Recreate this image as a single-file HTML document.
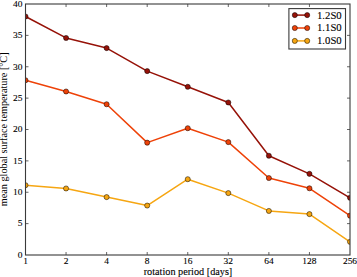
<!DOCTYPE html><html><head><meta charset="utf-8"><style>html,body{margin:0;padding:0;background:#fff;width:357px;height:277px;overflow:hidden}svg{display:block}text{font-family:"Liberation Serif",serif;fill:#000;stroke:#000;stroke-width:0.1px}</style></head><body>
<svg width="357" height="277" viewBox="0 0 357 277">
<defs><clipPath id="cp"><rect x="25.5" y="4.0" width="324.5" height="251.0"/></clipPath></defs>
<g clip-path="url(#cp)">
<polyline points="25.50,16.50 66.06,37.94 106.62,48.10 147.19,71.10 187.75,86.80 228.31,102.47 268.88,155.75 309.44,173.83 350.00,197.75" fill="none" stroke="#961208" stroke-width="1.5" stroke-linejoin="round"/>
<polyline points="25.50,80.25 66.06,91.50 106.62,104.25 147.19,142.65 187.75,128.20 228.31,142.10 268.88,178.04 309.44,188.29 350.00,215.65" fill="none" stroke="#ee4208" stroke-width="1.5" stroke-linejoin="round"/>
<polyline points="25.50,185.20 66.06,188.47 106.62,197.10 147.19,205.57 187.75,179.20 228.31,193.10 268.88,210.93 309.44,214.10 350.00,241.83" fill="none" stroke="#f6a612" stroke-width="1.5" stroke-linejoin="round"/>
<circle cx="25.50" cy="16.50" r="2.55" fill="#961208" stroke="#000" stroke-width="0.5"/>
<circle cx="66.06" cy="37.94" r="2.55" fill="#961208" stroke="#000" stroke-width="0.5"/>
<circle cx="106.62" cy="48.10" r="2.55" fill="#961208" stroke="#000" stroke-width="0.5"/>
<circle cx="147.19" cy="71.10" r="2.55" fill="#961208" stroke="#000" stroke-width="0.5"/>
<circle cx="187.75" cy="86.80" r="2.55" fill="#961208" stroke="#000" stroke-width="0.5"/>
<circle cx="228.31" cy="102.47" r="2.55" fill="#961208" stroke="#000" stroke-width="0.5"/>
<circle cx="268.88" cy="155.75" r="2.55" fill="#961208" stroke="#000" stroke-width="0.5"/>
<circle cx="309.44" cy="173.83" r="2.55" fill="#961208" stroke="#000" stroke-width="0.5"/>
<circle cx="350.00" cy="197.75" r="2.55" fill="#961208" stroke="#000" stroke-width="0.5"/>
<circle cx="25.50" cy="80.25" r="2.55" fill="#ee4208" stroke="#000" stroke-width="0.5"/>
<circle cx="66.06" cy="91.50" r="2.55" fill="#ee4208" stroke="#000" stroke-width="0.5"/>
<circle cx="106.62" cy="104.25" r="2.55" fill="#ee4208" stroke="#000" stroke-width="0.5"/>
<circle cx="147.19" cy="142.65" r="2.55" fill="#ee4208" stroke="#000" stroke-width="0.5"/>
<circle cx="187.75" cy="128.20" r="2.55" fill="#ee4208" stroke="#000" stroke-width="0.5"/>
<circle cx="228.31" cy="142.10" r="2.55" fill="#ee4208" stroke="#000" stroke-width="0.5"/>
<circle cx="268.88" cy="178.04" r="2.55" fill="#ee4208" stroke="#000" stroke-width="0.5"/>
<circle cx="309.44" cy="188.29" r="2.55" fill="#ee4208" stroke="#000" stroke-width="0.5"/>
<circle cx="350.00" cy="215.65" r="2.55" fill="#ee4208" stroke="#000" stroke-width="0.5"/>
<circle cx="25.50" cy="185.20" r="2.55" fill="#f6a612" stroke="#000" stroke-width="0.5"/>
<circle cx="66.06" cy="188.47" r="2.55" fill="#f6a612" stroke="#000" stroke-width="0.5"/>
<circle cx="106.62" cy="197.10" r="2.55" fill="#f6a612" stroke="#000" stroke-width="0.5"/>
<circle cx="147.19" cy="205.57" r="2.55" fill="#f6a612" stroke="#000" stroke-width="0.5"/>
<circle cx="187.75" cy="179.20" r="2.55" fill="#f6a612" stroke="#000" stroke-width="0.5"/>
<circle cx="228.31" cy="193.10" r="2.55" fill="#f6a612" stroke="#000" stroke-width="0.5"/>
<circle cx="268.88" cy="210.93" r="2.55" fill="#f6a612" stroke="#000" stroke-width="0.5"/>
<circle cx="309.44" cy="214.10" r="2.55" fill="#f6a612" stroke="#000" stroke-width="0.5"/>
<circle cx="350.00" cy="241.83" r="2.55" fill="#f6a612" stroke="#000" stroke-width="0.5"/>
</g>
<path d="M66.06,255.0v-3M66.06,4.0v3M106.62,255.0v-3M106.62,4.0v3M147.19,255.0v-3M147.19,4.0v3M187.75,255.0v-3M187.75,4.0v3M228.31,255.0v-3M228.31,4.0v3M268.88,255.0v-3M268.88,4.0v3M309.44,255.0v-3M309.44,4.0v3M25.5,223.62h3M350.0,223.62h-3M25.5,192.25h3M350.0,192.25h-3M25.5,160.88h3M350.0,160.88h-3M25.5,129.50h3M350.0,129.50h-3M25.5,98.12h3M350.0,98.12h-3M25.5,66.75h3M350.0,66.75h-3M25.5,35.38h3M350.0,35.38h-3" stroke="#222" stroke-width="0.7" fill="none"/>
<rect x="25.5" y="4.0" width="324.5" height="251.0" fill="none" stroke="#3a3a3a" stroke-width="1.1"/>
<text transform="translate(22.40,257.75) scale(1.075,1)" font-size="8.8" text-anchor="end">0</text>
<text transform="translate(22.40,226.38) scale(1.075,1)" font-size="8.8" text-anchor="end">5</text>
<text transform="translate(22.40,195.00) scale(1.075,1)" font-size="8.8" text-anchor="end">10</text>
<text transform="translate(22.40,163.62) scale(1.075,1)" font-size="8.8" text-anchor="end">15</text>
<text transform="translate(22.40,132.25) scale(1.075,1)" font-size="8.8" text-anchor="end">20</text>
<text transform="translate(22.40,100.88) scale(1.075,1)" font-size="8.8" text-anchor="end">25</text>
<text transform="translate(22.40,69.50) scale(1.075,1)" font-size="8.8" text-anchor="end">30</text>
<text transform="translate(22.40,38.12) scale(1.075,1)" font-size="8.8" text-anchor="end">35</text>
<text transform="translate(22.40,6.75) scale(1.075,1)" font-size="8.8" text-anchor="end">40</text>
<text transform="translate(25.50,264.20) scale(1.075,1)" font-size="8.8" text-anchor="middle">1</text>
<text transform="translate(66.06,264.20) scale(1.075,1)" font-size="8.8" text-anchor="middle">2</text>
<text transform="translate(106.62,264.20) scale(1.075,1)" font-size="8.8" text-anchor="middle">4</text>
<text transform="translate(147.19,264.20) scale(1.075,1)" font-size="8.8" text-anchor="middle">8</text>
<text transform="translate(187.75,264.20) scale(1.075,1)" font-size="8.8" text-anchor="middle">16</text>
<text transform="translate(228.31,264.20) scale(1.075,1)" font-size="8.8" text-anchor="middle">32</text>
<text transform="translate(268.88,264.20) scale(1.075,1)" font-size="8.8" text-anchor="middle">64</text>
<text transform="translate(309.44,264.20) scale(1.075,1)" font-size="8.8" text-anchor="middle">128</text>
<text transform="translate(350.00,264.20) scale(1.075,1)" font-size="8.8" text-anchor="middle">256</text>
<text transform="translate(188.00,275.30) scale(1.078,1)" font-size="9.5" text-anchor="middle">rotation period [days]</text>
<text transform="translate(6.6,129.3) rotate(-90) scale(1.075,1)" font-size="9.5" style="stroke-width:0" text-anchor="middle">mean global surface temperature [°C]</text>
<rect x="288.9" y="8.6" width="56.6" height="40.4" fill="#fff" stroke="#3a3a3a" stroke-width="1.1"/>
<line x1="294.8" y1="15.1" x2="307.2" y2="15.1" stroke="#961208" stroke-width="1.5"/>
<circle cx="294.8" cy="15.1" r="2.55" fill="#961208" stroke="#000" stroke-width="0.5"/>
<circle cx="307.2" cy="15.1" r="2.55" fill="#961208" stroke="#000" stroke-width="0.5"/>
<text transform="translate(317.00,18.55) scale(1.13,1)" font-size="9.5" text-anchor="start">1.2S0</text>
<line x1="294.8" y1="28.0" x2="307.2" y2="28.0" stroke="#ee4208" stroke-width="1.5"/>
<circle cx="294.8" cy="28.0" r="2.55" fill="#ee4208" stroke="#000" stroke-width="0.5"/>
<circle cx="307.2" cy="28.0" r="2.55" fill="#ee4208" stroke="#000" stroke-width="0.5"/>
<text transform="translate(317.00,31.45) scale(1.13,1)" font-size="9.5" text-anchor="start">1.1S0</text>
<line x1="294.8" y1="40.9" x2="307.2" y2="40.9" stroke="#f6a612" stroke-width="1.5"/>
<circle cx="294.8" cy="40.9" r="2.55" fill="#f6a612" stroke="#000" stroke-width="0.5"/>
<circle cx="307.2" cy="40.9" r="2.55" fill="#f6a612" stroke="#000" stroke-width="0.5"/>
<text transform="translate(317.00,44.35) scale(1.13,1)" font-size="9.5" text-anchor="start">1.0S0</text>
</svg></body></html>
